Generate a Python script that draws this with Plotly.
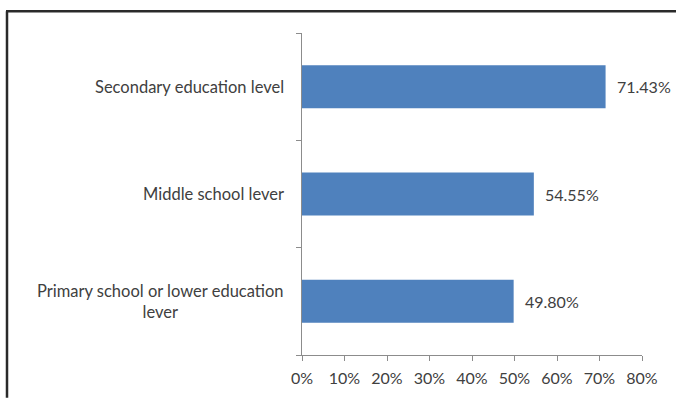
import plotly.graph_objects as go

categories = ["Primary school or lower education<br>lever", "Middle school lever", "Secondary education level"]
values = [49.80, 54.55, 71.43]
value_labels = ["49.80%", "54.55%", "71.43%"]
x_ticks = [0, 10, 20, 30, 40, 50, 60, 70, 80]
x_tick_labels = ["0%", "10%", "20%", "30%", "40%", "50%", "60%", "70%", "80%"]

W, H = 676, 399
L, R, T, B = 302, 34, 33, 42
pw, ph = W - L - R, H - T - B

FONT = "Lato"
TXT = "#404040"

fig = go.Figure()
fig.add_trace(go.Bar(
    y=categories, x=values, orientation="h",
    marker=dict(color="#4F81BD", line=dict(width=0)),
    width=0.4, hoverinfo="skip",
))

for c, v, t in zip(categories, values, value_labels):
    fig.add_annotation(x=v, y=c, xref="x", yref="y", text=t, showarrow=False,
                       xanchor="left", xshift=9, font=dict(family=FONT, size=16, color=TXT))
    fig.add_annotation(x=(286 - L) / pw, y=c, xref="paper", yref="y", text=c, showarrow=False,
                       xanchor="right", align="center", font=dict(family=FONT, size=16.5, color=TXT))

def px_x(p):
    return (p - L) / pw
def px_y(p):
    return 1 - (p - T) / ph

fig.add_shape(type="line", xref="paper", yref="paper", x0=px_x(7), x1=px_x(7), y0=px_y(11), y1=px_y(400),
              line=dict(color="#2a2a2a", width=2.5))
fig.add_shape(type="line", xref="paper", yref="paper", x0=px_x(6), x1=px_x(680), y0=px_y(11), y1=px_y(11),
              line=dict(color="#2a2a2a", width=2.5))

fig.update_layout(
    width=W, height=H,
    margin=dict(l=L, r=R, t=T, b=B, pad=0),
    paper_bgcolor="white", plot_bgcolor="white",
    showlegend=False,
    bargap=0.6,
    xaxis=dict(range=[0, 80], tickvals=x_ticks, ticktext=x_tick_labels,
               showgrid=False, zeroline=False, showline=True, linecolor="#8c8c8c", linewidth=1,
               ticks="outside", ticklen=5, tickcolor="#8c8c8c", ticklabelstandoff=4,
               tickfont=dict(family=FONT, size=16, color=TXT), fixedrange=True),
    yaxis=dict(type="category", showgrid=False, zeroline=False, showline=True, linecolor="#8c8c8c",
               linewidth=1, ticks="outside", ticklen=5, tickcolor="#8c8c8c", tickson="boundaries",
               showticklabels=False, fixedrange=True),
)

fig.write_html("out.html", config={"displayModeBar": False},
               post_script="document.body.style.margin='0';")
